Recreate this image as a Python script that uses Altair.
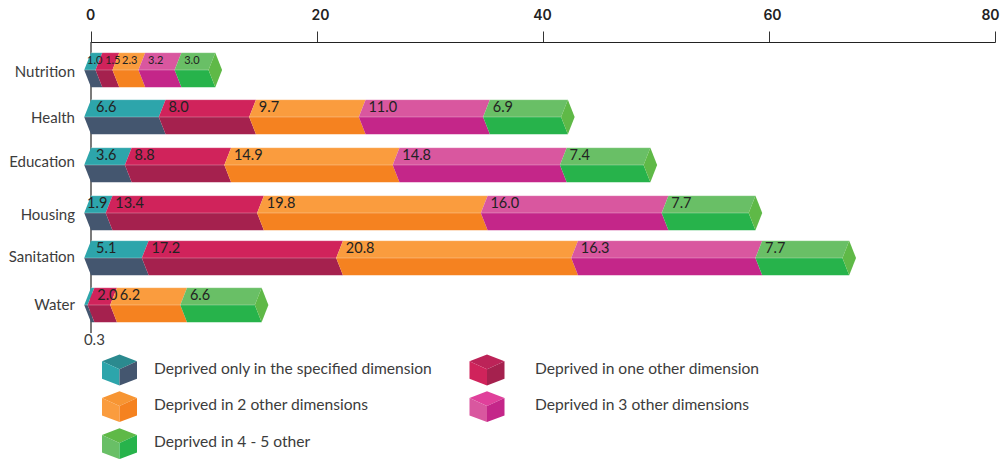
import altair as alt
import pandas as pd

# Multidimensional deprivation by dimension, split by number of other deprivations
dimensions = ["Nutrition", "Health", "Education", "Housing", "Sanitation", "Water"]
only_specified = [1.0, 6.6, 3.6, 1.9, 5.1, 0.3]
one_other = [1.5, 8.0, 8.8, 13.4, 17.2, 2.0]
two_other = [2.3, 9.7, 14.9, 19.8, 20.8, 6.2]
three_other = [3.2, 11.0, 14.8, 16.0, 16.3, 0.0]
four_five_other = [3.0, 6.9, 7.4, 7.7, 7.7, 6.6]

series_values = [only_specified, one_other, two_other, three_other, four_five_other]
series_names = [
    "Deprived only in the specified dimension",
    "Deprived in one other dimension",
    "Deprived in 2 other dimensions",
    "Deprived in 3 other dimensions",
    "Deprived in 4 - 5 other",
]
top_colors = ["#2DA5AB", "#D0235B", "#FA9C3E", "#D9579F", "#69BF66"]
front_colors = ["#44566F", "#A5214E", "#F58220", "#C42689", "#27B34B"]
cap_colors = ["#2B8A8F", "#BC2358", "#F79533", "#E0409B", "#5FB947"]
x_ticks = [0, 20, 40, 60, 80]

# Layout, all in page pixels
LEFT, TOP, PLOT_W, PLOT_H = 91, 42, 904, 417
X_MAX = 80
ROW_CENTRES = [70, 117, 165, 213, 258, 305]
DIM_LABEL_Y = [72, 118, 162, 215, 257, 305]
HALF_BAR = 17.3
BEVEL = 0.6  # how far the front edge of each block leans, in axis units
INK = "#222222"
FONT = "Lato"


def to_value(px):
    return (px - LEFT) * X_MAX / PLOT_W


faces, labels, edges = [], [], []
for r, dim in enumerate(dimensions):
    centre = ROW_CENTRES[r]
    start = 0.0
    for s, values in enumerate(series_values):
        v = values[r]
        if v == 0:
            continue
        end = start + v
        key = f"{dim}-{s}"
        faces += [
            dict(part=key + "-top", fill=top_colors[s], y=centre - HALF_BAR, x=start, x2=end),
            dict(part=key + "-top", fill=top_colors[s], y=centre, x=start - BEVEL, x2=end - BEVEL),
            dict(part=key + "-front", fill=front_colors[s], y=centre, x=start - BEVEL, x2=end - BEVEL),
            dict(part=key + "-front", fill=front_colors[s], y=centre + HALF_BAR, x=start, x2=end),
        ]
        if s == 0:
            nudge = 0.45 if v >= 2 else -0.35
        else:
            nudge = 0.25
        if v >= 0.5:
            labels.append(dict(
                text=f"{v:.1f}",
                x=start + nudge,
                y=centre - 8.7,
                size=11 if dim == "Nutrition" else 14.5,
            ))
        start = end
    # Green end cap of the block
    key = f"{dim}-cap"
    faces += [
        dict(part=key, fill=cap_colors[4], y=centre - HALF_BAR, x=start, x2=start),
        dict(part=key, fill=cap_colors[4], y=centre, x=start - BEVEL, x2=start + BEVEL),
        dict(part=key, fill=cap_colors[4], y=centre + HALF_BAR, x=start, x2=start),
    ]
    # Thin highlights along the upper edge and the fold of the block
    edges.append(dict(y=centre - HALF_BAR, x=0.0, x2=start))
    edges.append(dict(y=centre, x=-BEVEL, x2=start - BEVEL))

faces_df = pd.DataFrame(faces)
labels_df = pd.DataFrame(labels)
edges_df = pd.DataFrame(edges)
dims_df = pd.DataFrame({"text": dimensions, "y": DIM_LABEL_Y, "x": [to_value(75)] * 6})

x_scale = alt.Scale(domain=[0, X_MAX], nice=False, zero=False)
y_scale = alt.Scale(domain=[TOP, TOP + PLOT_H], reverse=True, nice=False, zero=False)
X = lambda f: alt.X(f, scale=x_scale, title=None)
Y = lambda f: alt.Y(f, scale=y_scale, axis=None)

axis_layer = alt.Chart(pd.DataFrame({"x": [0], "y": [TOP], "y2": [333]})).mark_rule(
    color=INK, strokeWidth=1.2
).encode(
    x=alt.X(
        "x:Q",
        scale=x_scale,
        title=None,
        axis=alt.Axis(
            orient="top",
            values=x_ticks,
            grid=False,
            tickSize=11,
            tickColor="#333333",
            domainColor=INK,
            labelFont="Inter",
            labelFontSize=14,
            labelFontWeight=600,
            labelColor=INK,
            labelPadding=9,
            labelFlush=False,
            labelOverlap=False,
            labelOffset={
                "condition": [
                    {"test": "datum.value === 80", "value": -5},
                    {"test": "datum.value === 20 || datum.value === 60", "value": 3},
                ],
                "value": -1,
            },
        ),
    ),
    y=Y("y:Q"),
    y2="y2:Q",
)

faces_layer = alt.Chart(faces_df).mark_area(orient="horizontal", strokeWidth=0).encode(
    x=X("x:Q").stack(None),
    x2="x2:Q",
    y=Y("y:Q"),
    color=alt.Color("fill:N", scale=None),
    detail="part:N",
)

edges_layer = alt.Chart(edges_df).mark_rule(color="white", opacity=0.28, strokeWidth=1).encode(
    x=X("x:Q"), x2="x2:Q", y=Y("y:Q")
)

value_text = alt.Chart(labels_df).mark_text(
    align="left", baseline="middle", font=FONT, color=INK
).encode(
    x=X("x:Q"),
    y=Y("y:Q"),
    size=alt.Size("size:Q", scale=None),
    text="text:N",
)

dim_text = alt.Chart(dims_df).mark_text(
    align="right", baseline="middle", font=FONT, fontSize=15, color="#3c3c3c"
).encode(x=X("x:Q"), y=Y("y:Q"), text="text:N")

# The Water block's smallest share is too thin to hold its number
small_text = alt.Chart(pd.DataFrame({"x": [only_specified[5]], "y": [340], "text": [f"{only_specified[5]:.1f}"]})).mark_text(
    align="center", baseline="middle", font=FONT, fontSize=15, color="#3c3c3c"
).encode(x=X("x:Q"), y=Y("y:Q"), text="text:N")

# Legend made of small cubes, one per series
legend_df = pd.DataFrame({
    "name": series_names,
    "top": cap_colors,
    "left": top_colors,
    "right": front_colors,
    "cube_x": [to_value(p) for p in [119.5, 487, 119.5, 487, 119.5]],
    "text_x": [to_value(p) for p in [154, 535, 154, 535, 154]],
    "cube_y": [370, 370, 406.7, 406.7, 443.7],
    "text_y": [369, 369, 405, 405, 442],
})

CUBE_TOP = "M0 -.88 L1 -.5 L0 -.04 L-1 -.5 Z"
CUBE_LEFT = "M-1 -.5 L0 -.04 L0 .88 L-1 .5 Z"
CUBE_RIGHT = "M1 -.5 L0 -.04 L0 .88 L1 .5 Z"


def cube_face(path, colour_field):
    return alt.Chart(legend_df).mark_point(
        shape=path, filled=True, size=1225, strokeWidth=0, opacity=1
    ).encode(
        x=X("cube_x:Q"),
        y=Y("cube_y:Q"),
        color=alt.Color(f"{colour_field}:N", scale=None),
    )


legend_text = alt.Chart(legend_df).mark_text(
    align="left", baseline="middle", font=FONT, fontSize=15.6, color="#3c3c3c"
).encode(x=X("text_x:Q"), y=Y("text_y:Q"), text="name:N")

chart = alt.layer(
    axis_layer,
    faces_layer,
    edges_layer,
    value_text,
    dim_text,
    small_text,
    cube_face(CUBE_TOP, "top"),
    cube_face(CUBE_LEFT, "left"),
    cube_face(CUBE_RIGHT, "right"),
    legend_text,
).resolve_scale(color="independent").properties(
    width=PLOT_W,
    height=PLOT_H,
    padding={"left": LEFT, "top": TOP, "right": 5, "bottom": 0},
    autosize="none",
    background="white",
).configure_view(stroke=None)

chart.save("out.html", embed_options={"renderer": "svg", "actions": False})
